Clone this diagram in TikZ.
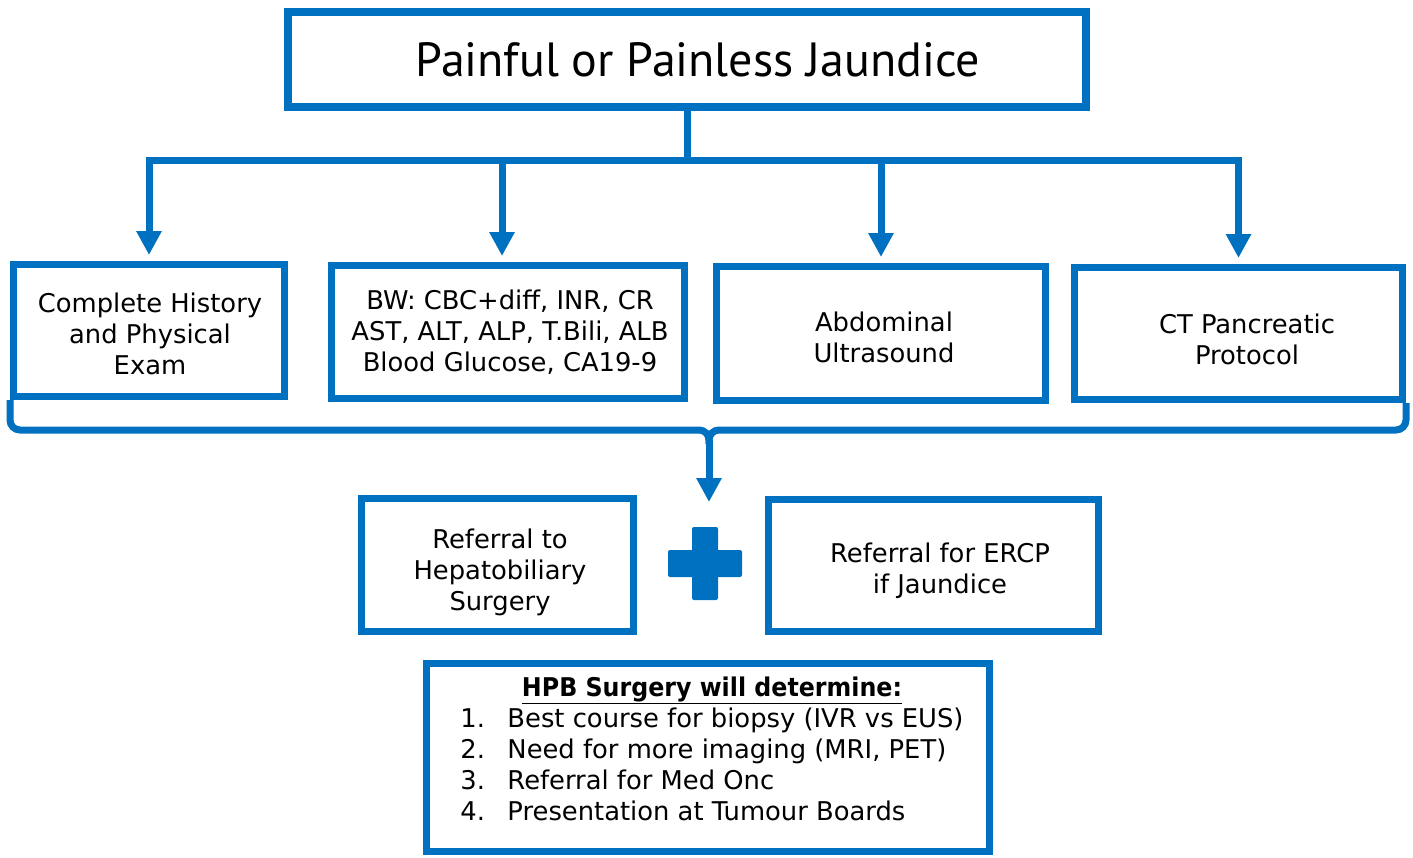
\documentclass[tikz,border=0pt]{standalone}
\usepackage{fontspec}
\usepackage{graphicx}
\setmainfont{DejaVu Sans}
\newfontfamily\titlefont{PT Sans}
\usetikzlibrary{arrows.meta}
\definecolor{mblue}{RGB}{0,112,192}
\begin{document}
\begin{tikzpicture}[x=1pt,y=-1pt,
  box/.style={draw=mblue, line width=7pt, inner sep=0pt},
  txt/.style={inner sep=0pt, align=center, text=black, font=\fontsize{25.8}{31}\selectfont},
  conn/.style={draw=mblue, line width=7pt},
  arr/.style={conn, -{Triangle[width=24pt,length=24pt]}, shorten >=6pt}]
\useasboundingbox (0,0) rectangle (1413,857);

\node[box, line width=8pt, minimum width=798pt, minimum height=95pt, text=black,
  font=\titlefont\fontsize{48}{52}\selectfont] (t) at (687,59.5) {\hspace*{22pt}Painful or Painless Jaundice};

\node[box, minimum width=271pt, minimum height=132pt] (b1) at (149,330.5) {};
\node[txt] (b1t) at (150,333.5) {Complete History\\and Physical\\Exam};
\node[box, minimum width=353pt, minimum height=133pt] (b2) at (508,332) {};
\node[txt] (b2t) at (510,332) {BW: CBC+diff, INR, CR\\AST, ALT, ALP, T.Bili, ALB\\Blood Glucose, CA19-9};
\node[box, minimum width=329pt, minimum height=134pt] (b3) at (881,333.5) {};
\node[txt] (b3t) at (884,337.5) {Abdominal\\Ultrasound};
\node[box, minimum width=328pt, minimum height=132pt] (b4) at (1238.5,333.5) {};
\node[txt] (b4t) at (1247,339.5) {CT Pancreatic\\Protocol};

\node[box, minimum width=272pt, minimum height=133pt] (r1) at (497.5,565) {};
\node[txt] (r1t) at (500,572) {Referral to\\Hepatobiliary\\Surgery};
\node[box, minimum width=330pt, minimum height=132pt] (r2) at (933.5,565.5) {};
\node[txt] (r2t) at (940,570.5) {Referral for ERCP\\if Jaundice};

\node[box, minimum width=563pt, minimum height=188pt] (hpb) at (708,757.5) {};
\node[txt] (hpbt) at (712,752)
  {\begin{tabular}{@{}p{47pt}@{}l@{}}
   \multicolumn{2}{c}{\scalebox{0.92}[1]{\bfseries\underline{HPB Surgery will determine:}}}\\
   1. & Best course for biopsy (IVR vs EUS)\\
   2. & Need for more imaging (MRI, PET)\\
   3. & Referral for Med Onc\\
   4. & Presentation at Tumour Boards
   \end{tabular}};

% top bus
\coordinate (bus) at (687,160);
\draw[conn] (t.south) -- (bus);
\draw[arr] (bus) -| (b1.north);
\draw[arr] (bus) -| ([xshift=-6pt]b2.north);
\draw[arr] (bus) -| (b3.north);
\draw[arr] (bus) -| (b4.north);

% brace
\coordinate (bm) at (709,430);
\coordinate (tip) at (709,502);
\draw[conn, rounded corners=10pt] (b1.south west) |- (bm) -- ++(0,14);
\draw[conn, rounded corners=10pt] (b4.south east) |- (bm) -- ++(0,14);
\draw[arr, shorten >=0pt] ([yshift=-10pt]bm) -- (tip);

% plus sign
\fill[mblue, rounded corners=2pt] (692,527) rectangle (718,600);
\fill[mblue, rounded corners=2pt] (668,550) rectangle (742,577);
\end{tikzpicture}
\end{document}
